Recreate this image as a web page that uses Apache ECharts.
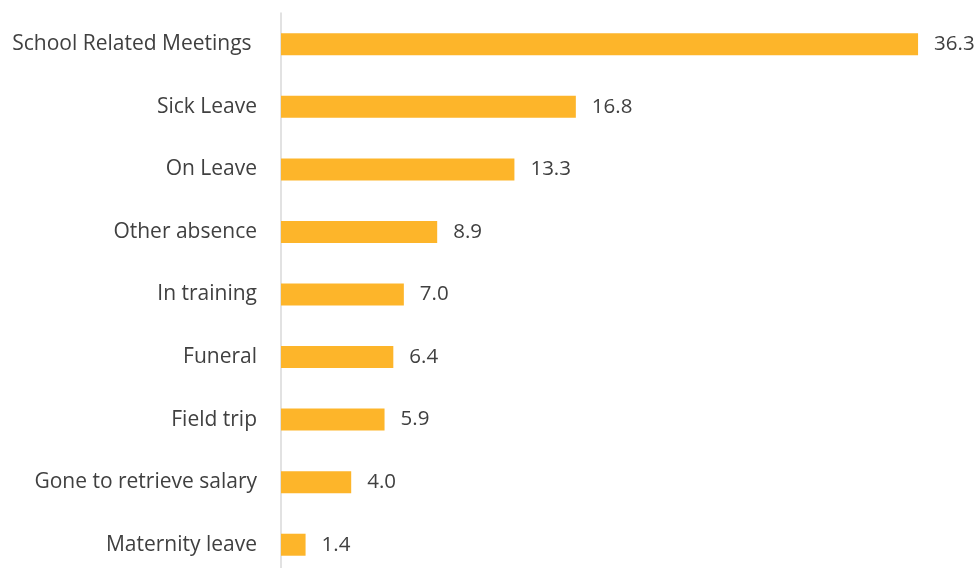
<!DOCTYPE html>
<html>
<head>
<meta charset="utf-8">
<script src="https://cdn.jsdelivr.net/npm/echarts@6/dist/echarts.min.js"></script>
<style>
  html, body { margin: 0; padding: 0; background: #fff; }
  #chart { width: 979px; height: 568px; }
</style>
</head>
<body>
<div id="chart"></div>
<script>
// Reasons for teacher absence, share of absences (%)
const categories = [
  'School Related Meetings ',
  'Sick Leave',
  'On Leave',
  'Other absence',
  'In training',
  'Funeral',
  'Field trip',
  'Gone to retrieve salary',
  'Maternity leave'
];
const values = [36.3, 16.8, 13.3, 8.9, 7.0, 6.4, 5.9, 4.0, 1.4];

const chart = echarts.init(document.getElementById('chart'));
const font = '"Open Sans", sans-serif';

chart.setOption({
  animation: false,
  grid: {
    left: 281, width: 702, top: 13, height: 563,
    containLabel: false,
    outerBoundsMode: 'none'
  },
  xAxis: {
    type: 'value',
    min: 0,
    max: 40,
    show: false
  },
  yAxis: {
    type: 'category',
    data: categories,
    inverse: true,
    axisLine: { show: true, lineStyle: { color: '#d9d9d9', width: 1.5 } },
    axisTick: { show: false },
    axisLabel: {
      margin: 24,
      color: '#404040',
      fontSize: 21,
      fontFamily: font
    }
  },
  series: [{
    type: 'bar',
    data: values,
    barWidth: 22,
    itemStyle: { color: '#FDB52A' },
    label: {
      show: true,
      position: 'right',
      distance: 16,
      color: '#404040',
      fontSize: 20.5,
      fontFamily: font,
      formatter: p => p.value.toFixed(1)
    }
  }]
});
</script>
</body>
</html>
